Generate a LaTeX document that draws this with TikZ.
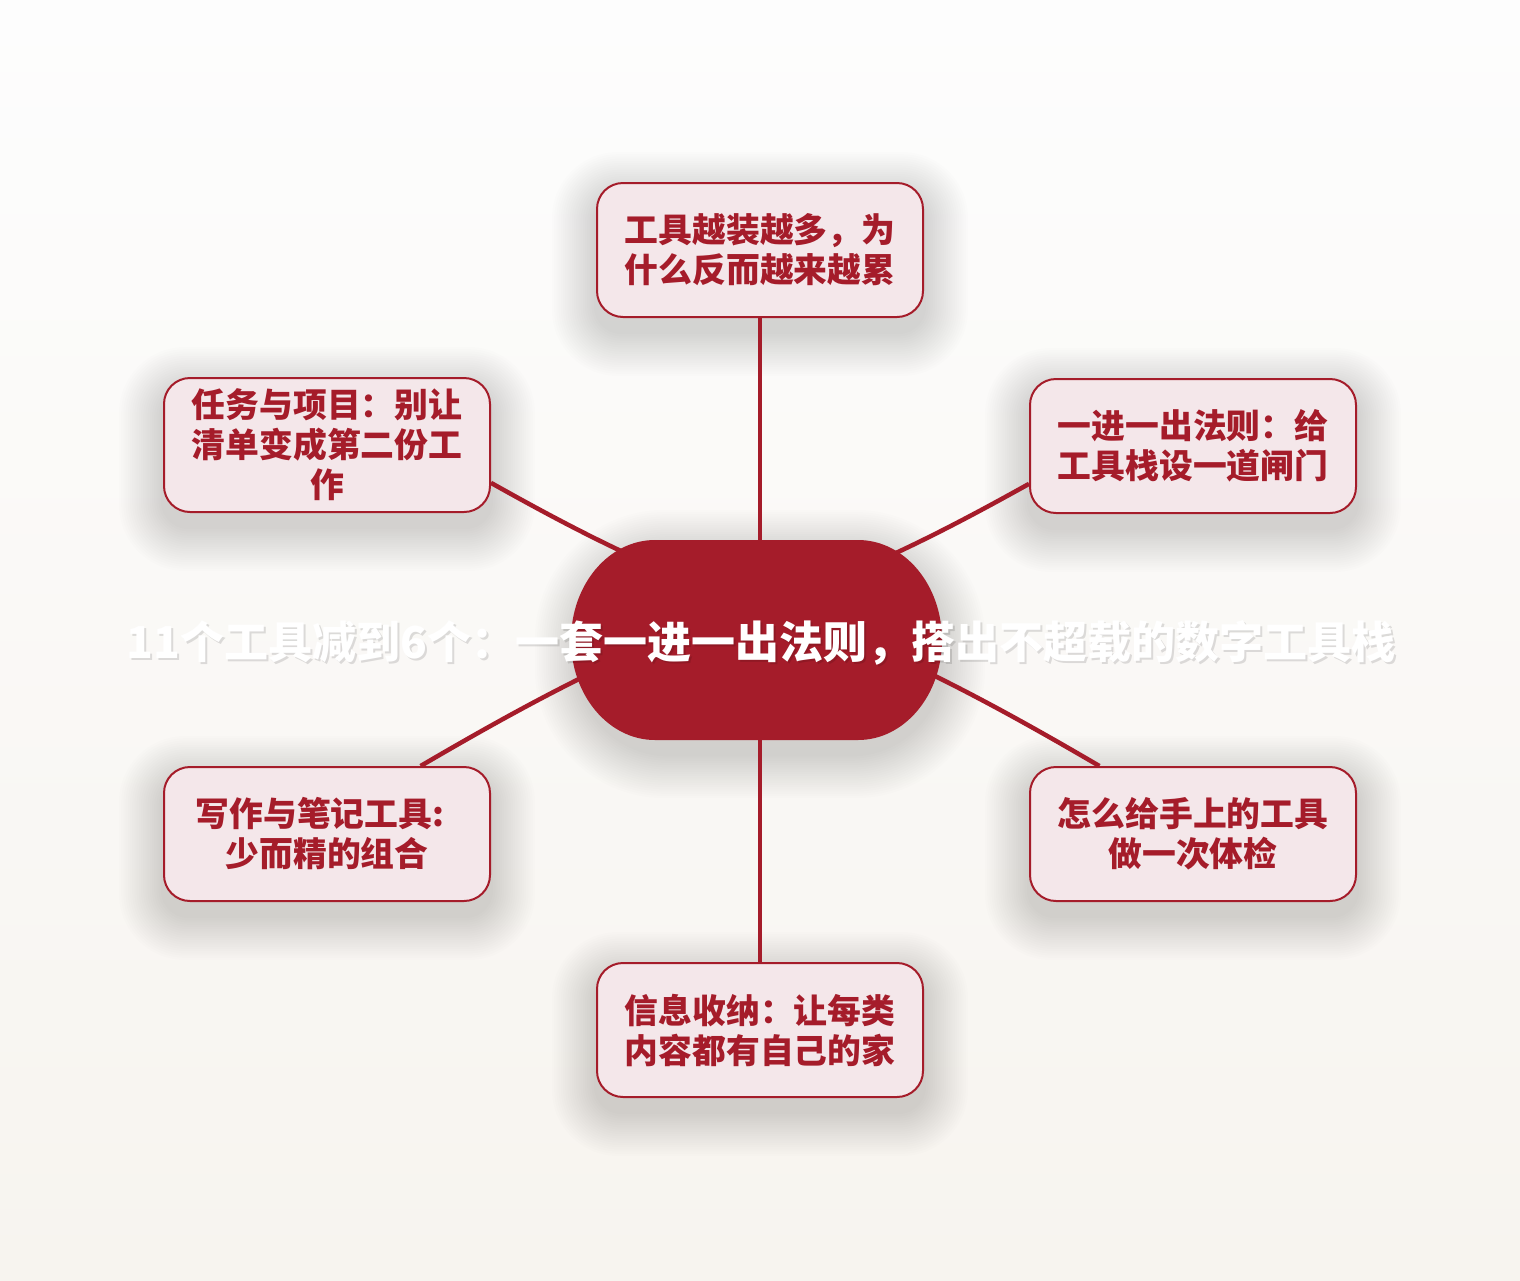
\documentclass[tikz,border=0pt]{standalone}
\usepackage{fontspec}
\setmainfont{Noto Sans CJK SC}
\usetikzlibrary{calc}
\definecolor{dred}{HTML}{A51C2A}
\definecolor{boxfill}{HTML}{F4E7EA}
\definecolor{bgtop}{HTML}{FDFDFD}
\definecolor{bgbot}{HTML}{F7F4EF}
\pgfdeclarelayer{bg}
\pgfdeclarelayer{edges}
\pgfsetlayers{bg,edges,main}
\newcommand\myshadow[2]{%
  \foreach \i in {1,...,20}{%
    \pgfmathsetmacro\rr{#2+\i*2}%
    \fill[black,opacity=0.0068,rounded corners=\rr pt]
      ($(#1.north west)+(-\i*2.2,-\i*2.2+14)$) rectangle ($(#1.south east)+(\i*2.2,\i*2.2+14)$);}}
\begin{document}
\begin{tikzpicture}[x=1pt,y=-1pt,
  topic/.style={draw=dred, line width=2pt, fill=boxfill, rounded corners=26pt,
    minimum width=326pt, minimum height=134pt, inner sep=0pt, align=center,
    text=dred, font=\bfseries\fontsize{33.8}{40}\selectfont},
  link/.style={draw=dred, line width=4.5pt},
  ttlfont/.style={font=\bfseries\fontsize{44}{52}\selectfont, inner sep=0pt}]
\useasboundingbox (0,0) rectangle (1520,1280);

\node[topic] (t)  at (760,250)  {工具越装越多，为\\什么反而越来越累};
\node[topic] (ul) at (327,445)  {任务与项目：别让\\清单变成第二份工\\作};
\node[topic] (ur) at (1193,446) {一进一出法则：给\\工具栈设一道闸门};
\node[topic] (ll) at (327,834)  {写作与笔记工具:\hspace*{14pt}\\少而精的组合};
\node[topic] (lr) at (1193,834) {怎么给手上的工具\\做一次体检};
\node[topic] (b)  at (760,1030) {信息收纳：让每类\\内容都有自己的家};

\node[minimum width=362pt, minimum height=200pt, inner sep=0pt] (c) at (760,640) {};
\fill[dred] (655,540) -- (858,540) arc[start angle=-90, end angle=90, x radius=84, y radius=100]
  -- (655,740) arc[start angle=90, end angle=270, x radius=84, y radius=100] -- cycle;

\node[ttlfont, text=black, opacity=0.12] (ttlsh) at (763,645) {11个工具减到6个：一套一进一出法则，搭出不超载的数字工具栈};
\node[ttlfont, text=white] (ttl) at (761,643) {11个工具减到6个：一套一进一出法则，搭出不超载的数字工具栈};

\begin{pgfonlayer}{bg}
  \shade[top color=bgtop, bottom color=bgbot] (0,0) rectangle (1520,1280);
  \myshadow{t}{26}\myshadow{ul}{26}\myshadow{ur}{26}\myshadow{ll}{26}\myshadow{lr}{26}\myshadow{b}{26}
  \myshadow{c}{90}
\end{pgfonlayer}

\begin{pgfonlayer}{edges}
  \draw[link] (t) -- (c);
  \draw[link] (c) -- (b);
  \draw[link] (ul.-13) to[bend right=4] ($(c.center)+(0,-30)$);
  \draw[link] (ur.193) to[bend left=4] ($(c.center)+(0,-30)$);
  \draw[link] (ll.36) to[bend left=4] ($(c.center)+(0,-42)$);
  \draw[link] (lr.144) to[bend right=4] ($(c.center)+(0,-42)$);
\end{pgfonlayer}
\end{tikzpicture}
\end{document}
